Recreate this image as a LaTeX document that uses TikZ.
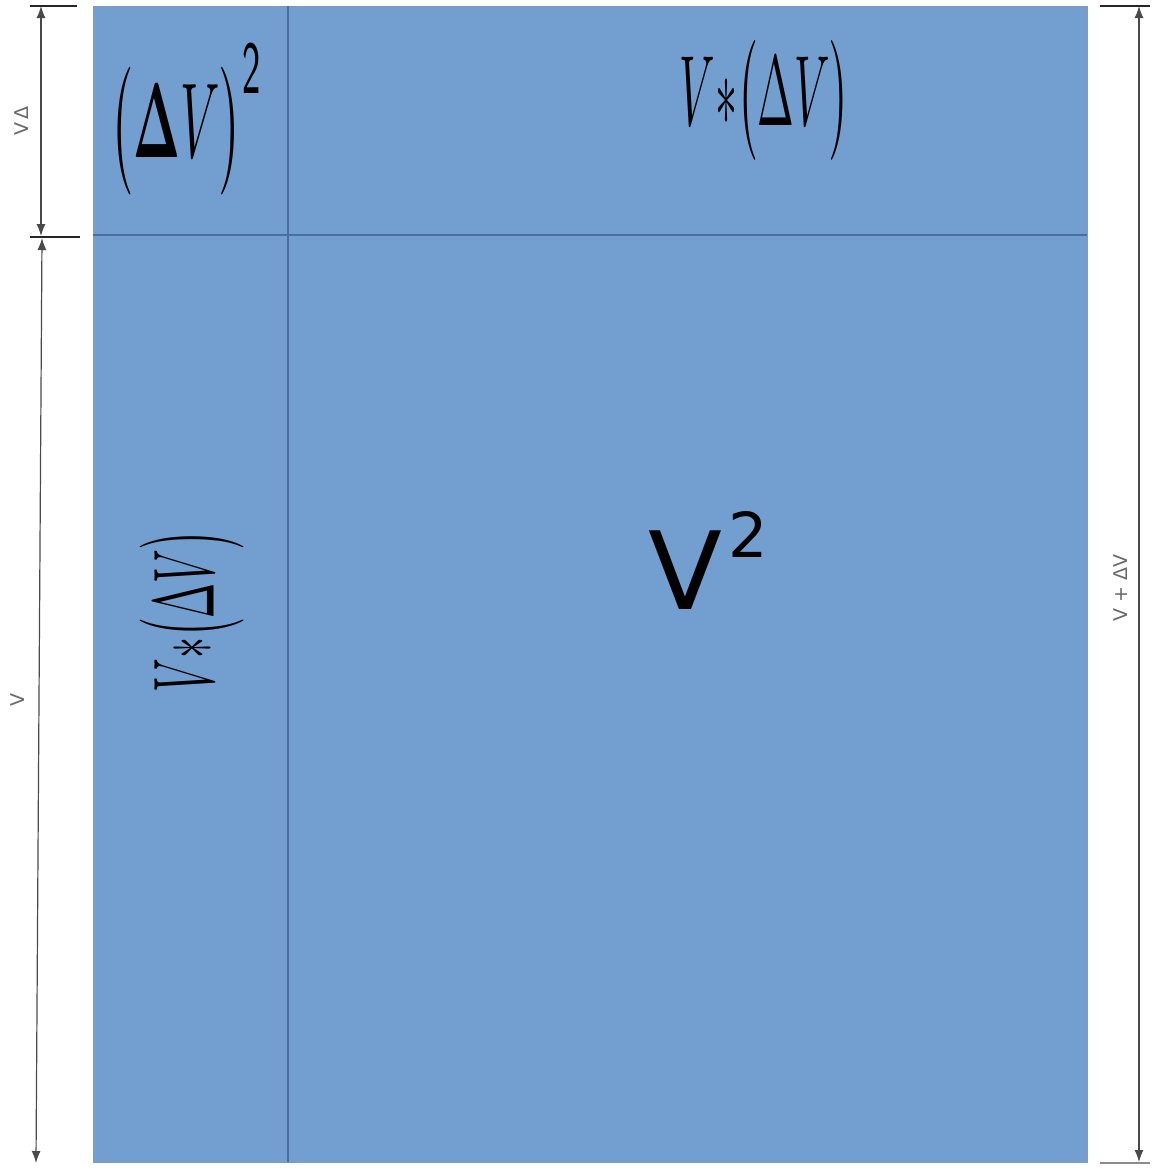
\documentclass[tikz,border=0pt]{standalone}
\usepackage{amsmath}
\usepackage{amssymb}
\usepackage{fontspec}
\newfontfamily\dvs{DejaVu Sans}
\usetikzlibrary{arrows.meta}
\definecolor{cellblue}{HTML}{729FCF}
\definecolor{gridline}{HTML}{4B6EA0}
\definecolor{dimgray}{HTML}{4A4A4A}
\definecolor{labgray}{HTML}{6A6A6A}
\tikzset{
  dimline/.style={draw=dimgray, line width=0.6pt, {Latex[length=6pt,width=4.5pt]}-{Latex[length=6pt,width=4.5pt]}},
  ticks/.style={draw=black!85, line width=0.6pt},
  dimlabel/.style={text=labgray, font=\dvs\fontsize{9.5}{10}\selectfont, inner sep=0pt, rotate=90},
  mathlabel/.style={inner sep=0pt, text=black},
  cellrule/.style={draw=gridline, line width=0.9pt}
}
\begin{document}
\begin{tikzpicture}[x=0.5pt,y=-0.5pt]
\useasboundingbox (0,0) rectangle (1156,1169);
\fill[white] (0,0) rectangle (1156,1169);
% corners
\coordinate (TL) at (93,6);
\coordinate (BR) at (1087,1162);
\coordinate (ct) at (288,6);
\coordinate (cb) at (288,1162);
\coordinate (rl) at (93,235);
\coordinate (rr) at (1087,235);
\fill[cellblue] (TL) rectangle (BR);
\draw[draw=gridline!70, line width=0.4pt] (TL) rectangle (BR);
\draw[cellrule] (ct) -- (cb);
\draw[cellrule] (rl) -- (rr);
% texts
\node[mathlabel] (sq) at (187,119) {\resizebox*{76pt}{76pt}{$\bigl(\boldsymbol{\Delta}V\bigr)^{\mathsf{2}}$}};
\node[mathlabel] (top) at (765,100) {\resizebox*{85pt}{60pt}{$V{\ast}\bigl(\Delta V\bigr)$}};
\node[mathlabel, rotate=90] (side) at (192,611) {\resizebox*{81pt}{52pt}{$V{\ast}\bigl(\Delta V\bigr)$}};
\node[mathlabel, font=\dvs] (vsq) at (708,560) {\fontsize{54}{54}\selectfont V\hspace{3pt}\raisebox{26pt}{\fontsize{31}{31}\selectfont 2}};
% dimension ticks
\coordinate (lt1) at (30,6);   \coordinate (lt2) at (77,6);
\coordinate (lm1) at (30,237); \coordinate (lm2) at (80,237);
\coordinate (rt1) at (1100,6); \coordinate (rt2) at (1150,6);
\coordinate (rb1) at (1100,1163); \coordinate (rb2) at (1150,1163);
\draw[ticks] (lt1) -- (lt2);
\draw[ticks] (lm1) -- (lm2);
\draw[ticks] (rt1) -- (rt2);
\draw[ticks, draw=black!45] (rb1) -- (rb2);
% dimension arrows
\coordinate (a1) at (41,6);
\coordinate (a2) at (41,236);
\coordinate (b1) at (42,238);
\coordinate (b2) at (36,1163);
\coordinate (c1) at (1139,6);
\coordinate (c2) at (1139,1162);
\draw[dimline] (a1) -- (a2);
\draw[dimline] (b1) -- (b2);
\draw[dimline] (c1) -- (c2);
% dimension labels
\node[dimlabel] (ldv) at (22,121) {V\,Δ};
\node[dimlabel] (lv) at (18,700) {V};
\node[dimlabel] (rvdv) at (1121,588) {V + ΔV};
\end{tikzpicture}
\end{document}
